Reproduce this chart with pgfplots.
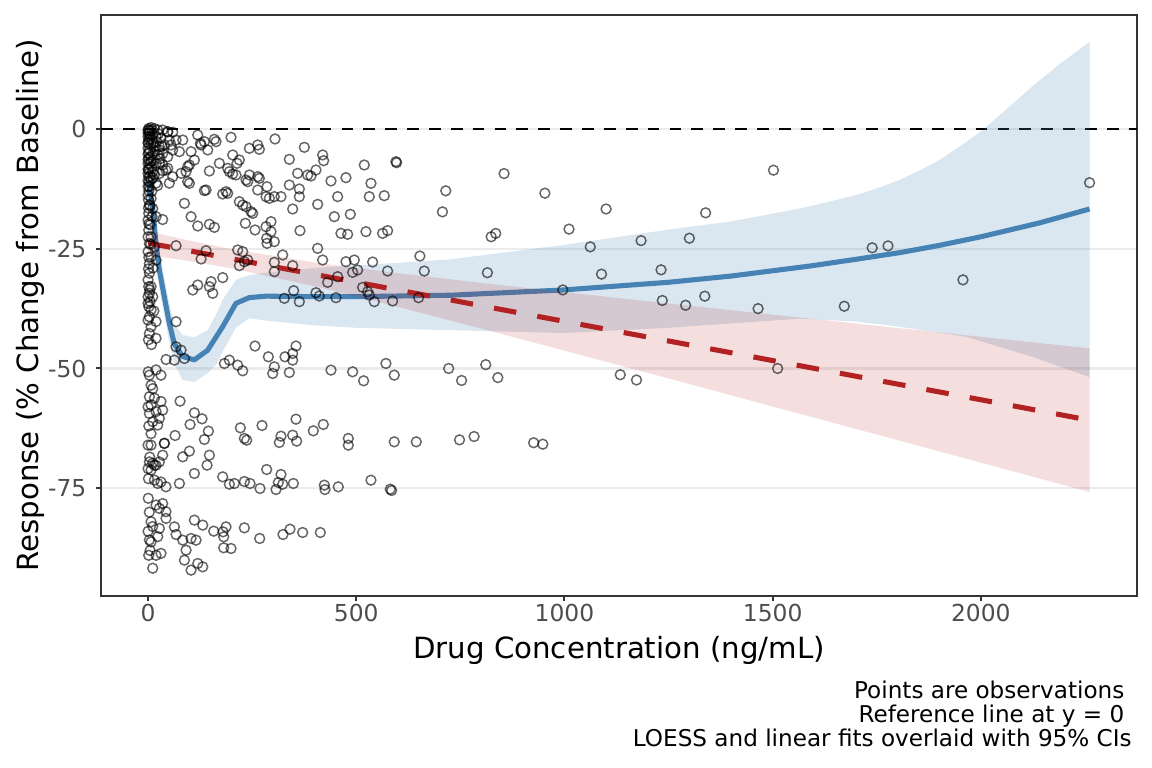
\documentclass[border=0pt]{standalone}
\usepackage{fontspec}
\setmainfont{DejaVu Sans}
\usepackage{pgfplots}
\pgfplotsset{compat=1.18}
\usepackage{pgfplotstable}
\definecolor{steel}{RGB}{70,130,180}
\definecolor{fire}{RGB}{178,34,34}
\definecolor{gridc}{RGB}{235,235,235}
\definecolor{framec}{RGB}{51,51,51}
\definecolor{tickc}{RGB}{77,77,77}

\pgfplotstableread{
x y
715 -12.9
707 -17.3
855 -9.3
953 -13.4
1100 -16.7
1502 -8.6
1339 -17.5
1011 -20.9
835 -21.8
824 -22.5
1062 -24.6
1184 -23.3
1300 -22.8
815 -30.0
1089 -30.3
1232 -29.4
996 -33.6
1235 -35.8
1291 -36.8
1337 -34.9
1465 -37.5
722 -50.0
753 -52.5
811 -49.2
840 -51.9
1134 -51.3
1173 -52.4
1512 -50.0
748 -64.9
783 -64.2
926 -65.5
948 -65.8
1672 -37.0
1739 -24.8
1777 -24.4
1957 -31.5
2261 -11.2
119.3 -1.25
159.3 -2.15
163.3 -2.64
199.3 -1.74
304.9 -2.08
125.7 -2.99
135.3 -2.64
83.3 -2.3
59.3 -0.69
47.3 -0.55
67.3 -2.3
75.3 -4.73
103.3 -4.73
143.3 -4.38
127.3 -3.34
243.3 -4.03
263.3 -3.34
267.3 -4.24
375.3 -3.82
339.3 -6.33
419.3 -5.42
421.7 -6.61
203.3 -5.42
219.3 -6.47
213.7 -7.16
171.3 -7.16
111.3 -6.47
99.3 -7.51
95.3 -7.86
91.3 -8.9
79.3 -9.25
35.3 -8.7
59.3 -9.95
27.3 -7.16
47.3 -8.21
35.3 -5.08
27.3 -4.38
55.3 -3.34
147.3 -8.77
191.3 -8.21
195.3 -8.9
203.3 -9.39
211.3 -9.6
243.3 -9.6
263.3 -9.95
267.3 -10.3
235.3 -10.64
239.3 -10.99
359.3 -9.25
383.3 -9.6
391.3 -9.81
403.3 -8.56
439.3 -10.85
475.3 -10.16
519.3 -7.51
535.3 -11.34
595.3 -6.82
596.9 -7.03
95.3 -10.99
99.3 -11.34
139.3 -12.73
135.3 -12.87
179.3 -13.57
187.3 -13.08
191.3 -13.43
263.3 -12.73
285.7 -12.04
283.3 -14.12
291.3 -14.47
303.3 -14.12
319.3 -14.12
339.3 -11.69
363.3 -12.52
363.3 -14.12
455.3 -14.12
531.3 -14.12
567.3 -13.92
87.3 -15.52
219.3 -15.17
227.3 -15.87
235.3 -16.21
247.3 -17.26
251.3 -17.61
347.3 -16.7
407.3 -15.73
447.3 -18.3
485.7 -17.81
103.3 -18.3
119.3 -20.25
147.3 -19.9
159.3 -20.53
233.7 -19.69
256.9 -21.08
283.3 -20.39
295.3 -19.34
295.3 -21.43
284.9 -22.82
285.7 -23.87
303.3 -23.52
364.9 -21.22
463.3 -21.78
479.3 -21.99
523.3 -21.43
563.3 -21.78
575.3 -21.22
67.3 -24.36
139.3 -25.4
127.3 -27.14
215.3 -25.26
227.3 -25.61
231.3 -27.7
239.3 -27.35
219.3 -28.53
303.3 -27.84
303.3 -29.79
323.3 -26.3
347.3 -28.53
407.3 -24.92
419.3 -27.35
475.3 -27.7
495.3 -27.35
491.3 -29.93
503.3 -29.44
539.3 -27.77
575.3 -29.65
652.9 -26.52
663.3 -29.65
455.3 -30.83
431.3 -32.01
107.3 -33.61
119.3 -32.57
151.3 -31.87
147.3 -32.91
155.3 -34.3
179.3 -31.03
327.3 -35.35
349.7 -33.75
363.3 -36.05
403.3 -34.18
411.3 -34.87
451.3 -35.22
515.3 -33.06
527.3 -33.96
531.3 -34.66
543.3 -36.05
587.3 -35.91
649.7 -35.22
67.3 -40.23
256.9 -45.31
355.3 -45.31
288.9 -47.56
328.9 -47.56
347.3 -46.86
347.3 -48.26
303.3 -49.65
299.3 -51.04
339.3 -50.83
183.3 -48.95
195.3 -48.26
215.3 -49.3
227.3 -50.48
439.3 -50.34
491.3 -50.69
517.7 -52.57
571.3 -48.95
591.3 -51.39
43.3 -48.12
63.3 -48.26
87.3 -47.91
79.3 -46.17
67.3 -45.47
76.9 -56.82
111.3 -59.26
129.7 -60.51
100.9 -61.69
144.9 -63.08
135.3 -64.82
64.9 -63.99
39.3 -65.66
221.7 -62.39
273.7 -61.9
355.3 -60.58
396.9 -63.01
420.9 -61.69
231.3 -64.61
236.9 -64.96
319.3 -64.13
347.3 -63.92
315.3 -65.45
356.9 -65.17
480.9 -64.61
480.9 -66.01
591.3 -65.31
644.1 -65.31
83.3 -68.44
99.3 -67.26
147.3 -68.1
141.7 -70.19
111.3 -71.92
179.3 -72.62
195.3 -74.16
207.3 -74.01
231.3 -73.6
244.9 -74.01
284.9 -71.09
319.3 -72.13
312.9 -73.8
323.3 -74.16
348.9 -74.01
268.9 -75.05
307.3 -75.27
423.3 -74.36
424.9 -75.27
456.9 -74.71
535.3 -73.32
581.7 -75.2
584.9 -75.47
75.3 -74.01
111.3 -81.66
131.3 -82.7
157.7 -83.96
180.1 -84.1
187.3 -83.06
181.7 -85.14
181.7 -87.44
199.3 -87.58
231.3 -83.27
268.1 -85.49
324.1 -84.66
340.9 -83.55
371.3 -84.24
413.7 -84.24
91.3 -87.93
87.3 -90.02
119.3 -90.71
131.3 -91.41
103.3 -92.1
115.3 -85.84
103.3 -85.49
83.3 -85.84
67.3 -84.66
63.3 -83.06
1.6 0.1
7.2 0.3
15.2 0.1
23.2 -0.2
35.1 -0.2
47.1 -0.6
3.2 -0.9
11.2 -1.2
19.2 -1.6
31.1 -1.9
1.6 -2.3
7.2 -3.0
15.2 -3.7
27.2 -3.7
39.1 -3.3
3.2 -4.4
11.2 -5.1
23.2 -5.4
1.6 -6.1
7.2 -6.8
19.2 -7.2
35.1 -7.5
3.2 -8.2
11.2 -8.9
27.2 -9.3
1.6 -10.0
7.2 -10.6
19.2 -11.3
3.2 -12.0
51.1 -2.3
59.1 -4.4
47.1 -5.8
43.1 -8.6
51.1 -11.3
0 -1.6
0 -4.0
0 -7.2
0 -0.2
4.8 -0.4
9.6 -2.2
12.8 -6.5
0 -9.3
6.4 -5.8
3.2 -15.9
11.2 -16.6
1.6 -17.6
9.6 -18.3
19.2 -18.3
35.1 -18.9
1.6 -21.1
7.2 -22.5
3.2 -23.9
15.2 -24.6
0 -25.6
7.2 -26.7
3.2 -28.1
19.2 -27.4
3.2 -30.1
0 -31.5
7.2 -32.9
3.2 -34.3
11.2 -35.0
0 -36.4
7.2 -37.8
3.2 -39.2
19.2 -40.2
7.2 -41.3
3.2 -42.7
19.2 -43.7
0 -19.0
0 -13.8
7.2 -14.5
1.6 -32.9
0 -39.9
0.5 -3.0
2 -5.0
4 -2.0
1 -8.5
5 -9.8
2.5 -11.0
0 -12.0
9 -13.0
1 -14.8
5 -16.0
0 -22.5
5 -20.0
2 -26.8
12 -29.0
0 -35.0
5 -36.0
14 -38.0
1 -44.0
0 -0.8
0 -2.8
0 -5.2
0 -6.4
0 -8.4
0 -10.8
2 -0.3
5 -1.5
10 -0.2
13 -3.0
17 -4.6
21 -2.6
25 -1.0
29 -6.2
33 -3.6
15 -9.6
23 -11.8
9 -7.9
2 -12.9
4 -7.3
12 -10.2
1 -16.5
2 -19.8
6 -24.1
1 -29.2
4 -33.6
2 -37.1
8 -45.0
0.5 -50.7
19.2 -50.3
31.1 -51.4
7.2 -53.5
11.2 -54.2
3.2 -55.9
15.2 -56.2
7.2 -57.6
31.1 -56.9
3.2 -59.4
19.2 -59.0
35.1 -58.7
27.2 -60.4
11.2 -61.1
23.2 -61.8
7.2 -63.6
39.1 -65.6
7.2 -66.0
3.2 -69.5
11.2 -69.8
19.2 -70.2
27.2 -69.5
35.1 -68.1
7.2 -71.2
15.2 -73.3
23.2 -74.0
31.1 -73.7
43.1 -74.7
19.2 -78.5
35.1 -78.2
27.2 -79.2
43.1 -79.9
43.1 -81.3
7.2 -82.0
11.2 -83.0
27.2 -83.4
23.2 -85.1
7.2 -86.2
19.2 -89.0
31.1 -88.6
11.2 -91.7
15.2 -70.2
0 -70.9
3.2 -85.8
0.5 -77.1
1.6 -89.0
3.2 -51.4
0 -58.0
2 -62.0
0 -66.0
4 -68.5
1 -73.0
3 -80.0
0 -84.0
5 -88.0
}\points

\pgfplotstableread{
x y
0 -11
3 -12
11 -16.2
19 -23.8
27 -29.4
39 -35
51 -40.5
63 -44.8
83 -47.5
111 -48.2
143 -46.2
179 -41.3
211 -36.4
243 -35.2
283 -34.9
400 -35.0
500 -35.0
727 -34.7
998 -33.6
1250 -32.0
1400 -30.7
1590 -28.6
1700 -27.2
1806 -25.8
1900 -24.3
2000 -22.5
2141 -19.6
2261 -16.7
}\loess

\pgfplotstableread{
x y
0 -15
3 -16
11 -19.8
19 -27.5
27 -33.2
39 -39
51 -44.5
63 -49
83 -52.4
111 -52.8
143 -51
165 -49
179 -46.5
211 -41.5
243 -39.5
283 -40
400 -41
500 -41.5
727 -42
998 -42.6
1250 -41.5
1566 -39.6
1700 -40.2
1806 -41.3
1966 -43.4
2125 -47.6
2261 -51.8
2261 18.2
2190 13.6
2125 9.0
2060 4.0
2000 -0.5
1950 -3.6
1900 -6.5
1850 -8.8
1806 -10.6
1750 -12.4
1700 -13.8
1630 -15.3
1566 -16.6
1400 -19.3
1250 -21
998 -24.2
727 -27.2
500 -28.5
400 -29
283 -30
243 -30.5
211 -31.5
179 -35.7
165 -38.5
143 -42
111 -43.5
83 -43
63 -40.8
51 -36.5
39 -31
27 -25.6
19 -20.1
11 -12.6
3 -8
0 -7
}\loessband

\pgfplotstableread{
x y
0 -26.27
100 -27.57
200 -29.07
400 -32.81
600 -37.13
800 -41.66
1000 -46.27
1250 -52.08
1500 -57.93
1750 -63.78
2000 -69.65
2261 -75.79
2261 -45.79
2000 -43.39
1750 -41.08
1500 -38.75
1250 -36.42
1000 -34.05
800 -32.12
600 -30.11
400 -27.87
200 -25.07
100 -23.31
0 -21.33
}\linband

\pgfplotstableread{
x y
0 -23.8
2261 -60.8
}\linfit

\pgfplotstableread{
x y
-113 0
2375 0
}\zeroline

\begin{document}
\begin{tikzpicture}
\useasboundingbox (-37.875bp,-64.5bp) rectangle (394.125bp,223.5bp);
\begin{axis}[
  at={(0,0)}, anchor=south west,
  scale only axis, width=388.5bp, height=217.875bp,
  xmin=-113, xmax=2375, ymin=-97.5, ymax=23.8,
  axis line style={framec, line width=0.75bp},
  xtick={0,500,1000,1500,2000}, xticklabels={0,500,1000,1500,2000},
  ytick={-75,-50,-25,0}, yticklabels={-75,-50,-25,0},
  xtick pos=bottom, ytick pos=left,
  tick align=outside, major tick length=2bp,
  tick style={framec, line width=0.75bp},
  minor tick num=0,
  ymajorgrids, grid style={gridc, line width=0.8bp},
  ticklabel style={font=\fontsize{8.8}{10}\selectfont, text=tickc},
  xticklabel style={anchor=base, yshift=-7.5bp},
  yticklabel style={anchor=east},
  xlabel={Drug Concentration (ng/mL)},
  ylabel={Response (\% Change from Baseline)},
  label style={font=\fontsize{11}{13}\selectfont, text=black},
  xlabel style={at={(axis description cs:0.5,-0.0945)}, anchor=center},
  ylabel style={at={(axis description cs:-0.0685,0.5)}, anchor=center},
  clip=true,
]
\addplot[black, line width=0.9bp, dash pattern=on 4.4bp off 3.8bp] table[x=x,y=y]{\zeroline};
\addplot[draw=none, fill=steel, fill opacity=0.2] table[x=x,y=y]{\loessband} -- cycle;
\addplot[steel, line width=1.9bp, line join=round] table[x=x,y=y]{\loess};
\addplot[draw=none, fill=fire, fill opacity=0.15] table[x=x,y=y]{\linband} -- cycle;
\addplot[fire, line width=1.9bp, dash pattern=on 8.5bp off 8bp] table[x=x,y=y]{\linfit};
\addplot[only marks, mark=o, mark size=1.85bp,
  mark options={draw=black, draw opacity=0.6, line width=0.55bp}] table[x=x,y=y]{\points};
\coordinate (capref) at (rel axis cs:1,0);
\end{axis}
\begin{scope}[every node/.style={anchor=base east, inner sep=0pt, font=\fontsize{8.7}{10}\selectfont}]
\node at ([xshift=-1.8bp,yshift=-38.25bp]capref) {Points are observations\hspace*{0.318em}};
\node at ([xshift=-1.8bp,yshift=-47.25bp]capref) {Reference line at y = 0\hspace*{0.318em}};
\node at ([xshift=-1.8bp,yshift=-56.25bp]capref) {LOESS and linear fits overlaid with 95\% CIs};
\end{scope}
\end{tikzpicture}
\end{document}
